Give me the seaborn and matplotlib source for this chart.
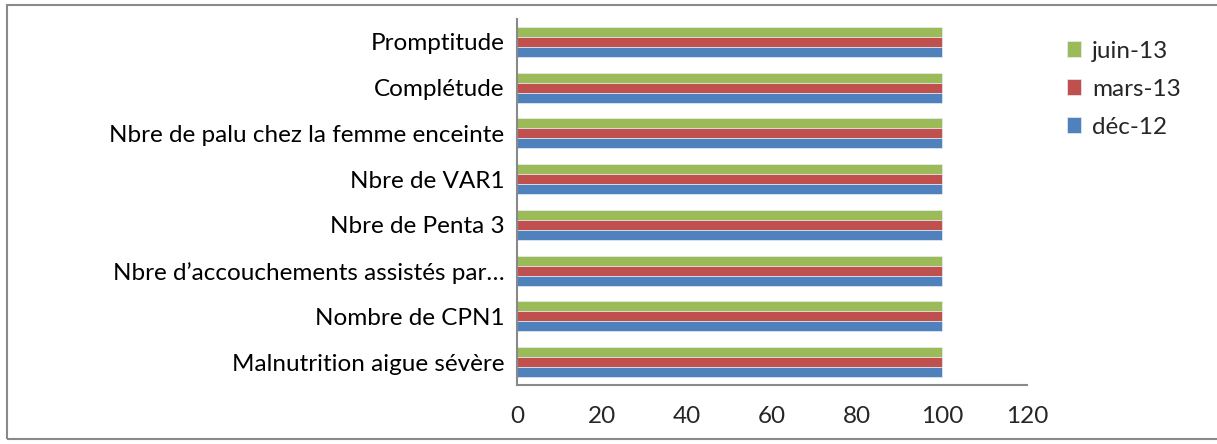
import matplotlib
matplotlib.use("Agg")
import matplotlib.pyplot as plt
import seaborn as sns
import pandas as pd
from matplotlib.patches import Rectangle

categories = [
    "Promptitude",
    "Complétude",
    "Nbre de palu chez la femme enceinte",
    "Nbre de VAR1",
    "Nbre de Penta 3",
    "Nbre d\u2019accouchements assistés par\u2026",
    "Nombre de CPN1",
    "Malnutrition aigue sévère",
]
series_names = ["juin-13", "mars-13", "déc-12"]
juin_13 = [100, 100, 100, 100, 100, 100, 100, 100]
mars_13 = [100, 100, 100, 100, 100, 100, 100, 100]
dec_12 = [100, 100, 100, 100, 100, 100, 100, 100]
x_ticks = [0, 20, 40, 60, 80, 100, 120]
colors = {"juin-13": "#9BBB59", "mars-13": "#C0504D", "déc-12": "#4F81BD"}

rows = []
for name, vals in zip(series_names, [juin_13, mars_13, dec_12]):
    for c, v in zip(categories, vals):
        rows.append({"cat": c, "series": name, "value": v})
df = pd.DataFrame(rows)

sns.set_style("white")
plt.rcParams["font.family"] = ["Lato", "DejaVu Sans"]
FS = 17.5

fig = plt.figure(figsize=(12.17, 4.44), dpi=100)
ax = fig.add_axes([517 / 1217, 1 - 385 / 444, 510 / 1217, 366 / 444])

sns.barplot(data=df, y="cat", x="value", hue="series", order=categories,
            hue_order=series_names, palette=colors, orient="h", width=0.66,
            saturation=1, edgecolor="#e8eef5", linewidth=0.5, ax=ax, legend=True)

ax.set_xlim(0, 120)
ax.set_ylim(len(categories) - 0.5, -0.5)
ax.set_xticks(x_ticks)
ax.set_xticklabels([str(t) for t in x_ticks])
ax.set_yticks(range(len(categories)))
ax.set_yticklabels(categories)
ax.set_yticks([i - 0.5 for i in range(len(categories) + 1)], minor=True)
ax.tick_params(axis="y", which="major", length=0, pad=9, labelsize=FS, colors="black")
ax.tick_params(axis="y", which="minor", length=7, width=1.5, color="#898989", direction="out")
ax.tick_params(axis="x", which="major", length=7, width=1.5, color="#898989", direction="out",
               labelsize=FS, pad=8)
ax.set_xlabel("")
ax.set_ylabel("")
for s in ["top", "right"]:
    ax.spines[s].set_visible(False)
for s in ["left", "bottom"]:
    ax.spines[s].set_color("#898989")
    ax.spines[s].set_linewidth(1.5)

handles, labels = ax.get_legend_handles_labels()
ax.legend_.remove()
fig.legend(handles, labels, loc="upper left", bbox_to_anchor=(1057 / 1217, 1 - 31 / 444),
           frameon=False, fontsize=FS, handlelength=0.6, handleheight=0.6,
           handletextpad=0.45, labelspacing=0.7, borderaxespad=0)

fig.patches.append(Rectangle((6.5 / 1217, 5.5 / 444), 1.0, 1 - 11 / 444,
                             transform=fig.transFigure, fill=False,
                             edgecolor="#898989", linewidth=1.5))

fig.savefig("out.png", dpi=100)
